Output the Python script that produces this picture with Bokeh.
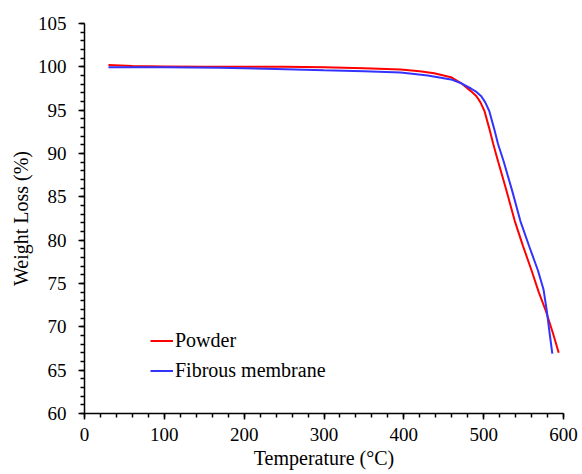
from bokeh.plotting import figure
from bokeh.models import Range1d, SingleIntervalTicker, Legend, LegendItem
from bokeh.embed import file_html
from bokeh.resources import INLINE

# Data
powder_temp = [30, 60, 100, 150, 200, 250, 300, 350, 396, 420, 438, 459, 472, 484,
               491, 496, 501, 507, 512, 518, 528, 539, 549, 560, 569, 578, 587, 594]
powder_weight = [100.2, 100.1, 100.05, 100.0, 100.0, 100.0, 99.95, 99.85, 99.7, 99.5,
                 99.25, 98.8, 98.1, 97.2, 96.6, 95.9, 94.9, 92.9, 91.1, 89.1, 85.9,
                 82.2, 79.4, 76.5, 74.0, 71.8, 69.2, 67.0]

fibrous_temp = [30, 100, 170, 240, 300, 350, 396, 430, 459, 472, 484, 491, 497, 502,
                507, 513, 518, 525, 536, 546, 557, 568, 575, 579, 583, 586]
fibrous_weight = [99.95, 99.95, 99.9, 99.75, 99.6, 99.5, 99.35, 99.0, 98.55, 98.1,
                  97.5, 97.1, 96.6, 95.9, 94.9, 92.9, 91.1, 89.1, 85.6, 82.2, 79.3,
                  76.5, 74.3, 71.9, 69.0, 66.9]

series_names = ["Powder", "Fibrous membrane"]
series_colors = ["#FF0000", "#3333FF"]

x_title = "Temperature (°C)"
y_title = "Weight Loss (%)"

FONT = "Liberation Serif"

p = figure(width=582, height=474, output_backend="svg", toolbar_location=None,
           x_range=Range1d(0, 600), y_range=Range1d(60, 105),
           min_border_left=84, min_border_right=19, min_border_top=23,
           min_border_bottom=61)
p.outline_line_color = None
p.grid.visible = False
p.background_fill_color = "white"
p.border_fill_color = "white"

r1 = p.line(powder_temp, powder_weight, line_color=series_colors[0], line_width=2)
r2 = p.line(fibrous_temp, fibrous_weight, line_color=series_colors[1], line_width=2)

p.xaxis.ticker = SingleIntervalTicker(interval=100, num_minor_ticks=5)
p.yaxis.ticker = SingleIntervalTicker(interval=5, num_minor_ticks=5)

for ax in (p.xaxis[0], p.yaxis[0]):
    ax.axis_line_color = "black"
    ax.axis_line_width = 1.5
    ax.major_tick_line_color = "black"
    ax.minor_tick_line_color = "black"
    ax.major_tick_line_width = 1.5
    ax.minor_tick_line_width = 1.5
    ax.major_tick_in = 0
    ax.major_tick_out = 6
    ax.minor_tick_in = 0
    ax.minor_tick_out = 4
    ax.major_label_text_font = FONT
    ax.major_label_text_font_size = "19px"
    ax.major_label_text_color = "black"
    ax.axis_label_text_font = FONT
    ax.axis_label_text_font_size = "20px"
    ax.axis_label_text_font_style = "normal"
    ax.axis_label_text_color = "black"

p.xaxis.axis_label = x_title
p.yaxis.axis_label = y_title
p.xaxis.major_label_standoff = 8
p.xaxis.axis_label_standoff = 3
p.yaxis.major_label_standoff = 12
p.yaxis.axis_label_standoff = 3

legend = Legend(items=[LegendItem(label=series_names[0], renderers=[r1]),
                       LegendItem(label=series_names[1], renderers=[r2])],
                location=(66, 31), padding=0, margin=0, spacing=7,
                glyph_width=23, glyph_height=23, label_height=23,
                label_standoff=2, border_line_color=None,
                background_fill_alpha=0,
                label_text_font=FONT, label_text_font_size="20px",
                label_text_color="black")
p.add_layout(legend, "center")

open("out.html", "w").write(file_html(p, INLINE))
